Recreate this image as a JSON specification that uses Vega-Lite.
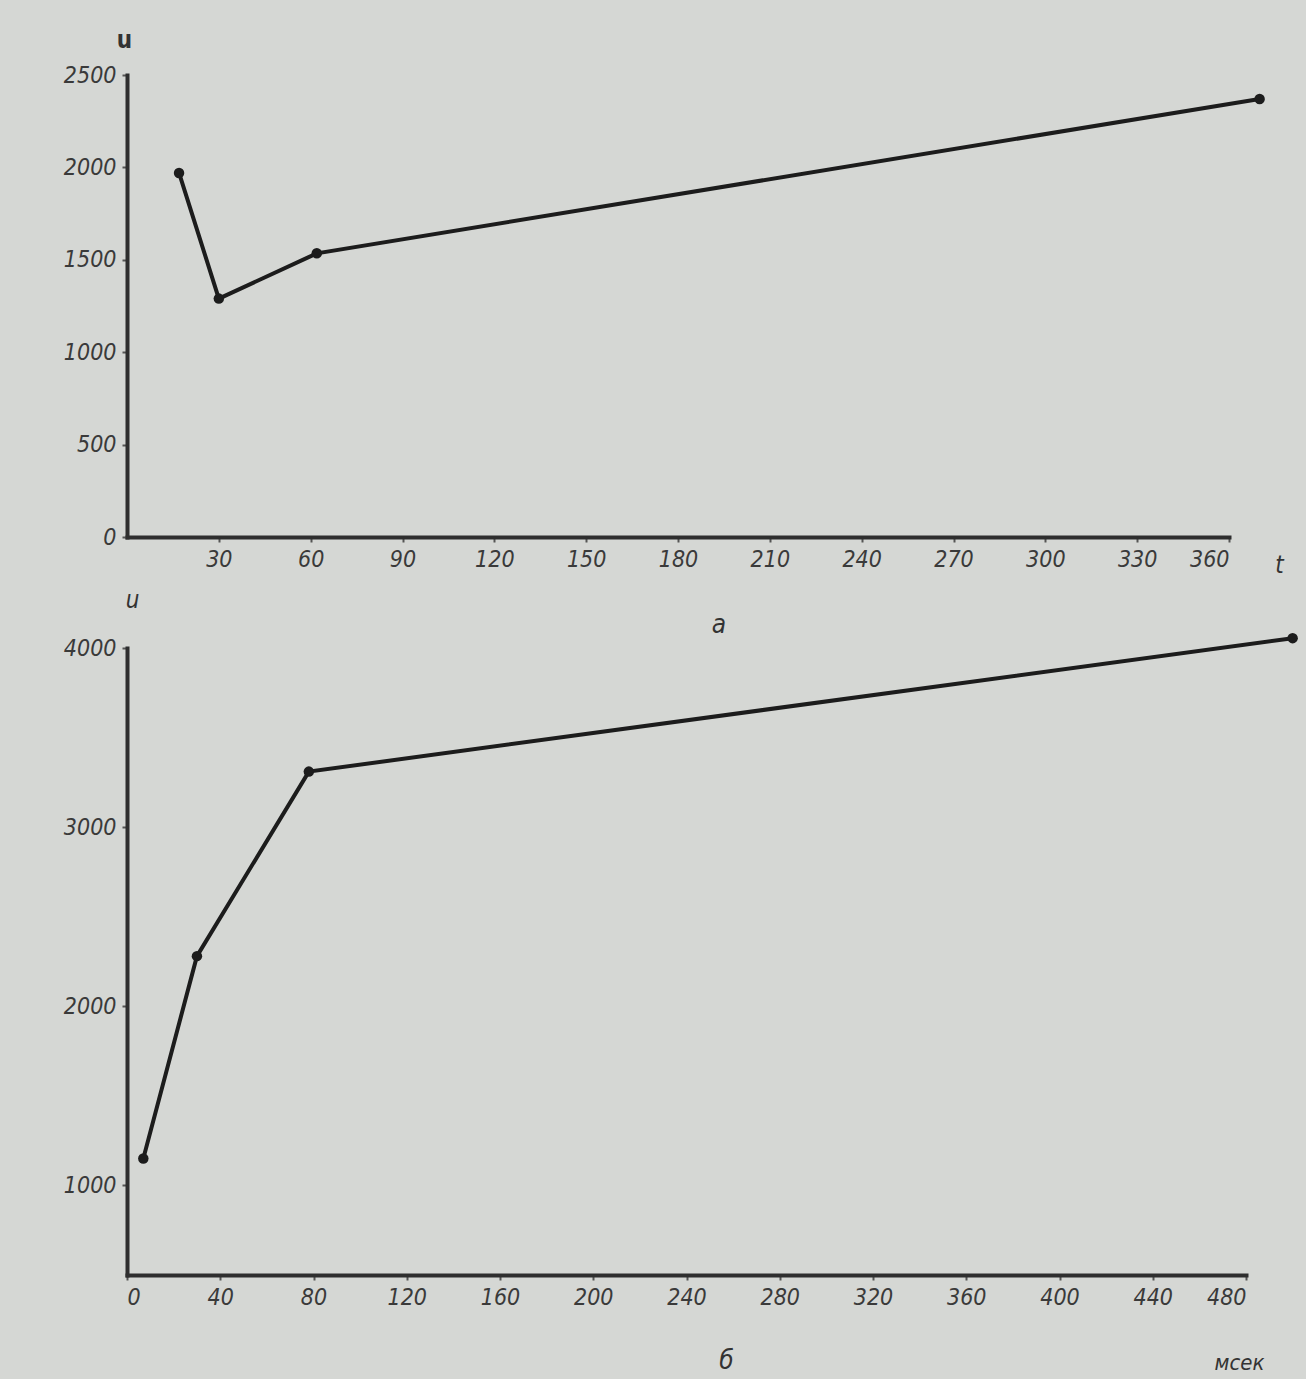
{
  "$schema": "https://vega.github.io/schema/vega-lite/v6.json",
  "background": "#d5d7d4",
  "padding": {"left": 63, "top": 28, "right": 5, "bottom": 5},
  "bounds": "flush",
  "spacing": 111,
  "config": {
    "view": {"stroke": null},
    "font": "DejaVu Sans Condensed, Liberation Sans Narrow, DejaVu Sans",
    "axis": {
      "domainColor": "#2e2e2e", "domainWidth": 4, "domainCap": "square",
      "tickColor": "#555555", "tickSize": 5, "tickWidth": 2,
      "grid": false, "format": "d",
      "labelFontStyle": "italic", "labelFontSize": 23, "labelColor": "#3a3a3a", "labelPadding": 6,
      "titleFontStyle": "italic", "titleFontWeight": "normal", "titleFontSize": 24, "titleColor": "#333333"
    },
    "title": {"fontStyle": "italic", "fontWeight": "normal", "fontSize": 26, "color": "#333333"}
  },
  "vconcat": [
    {
      "width": 1102,
      "height": 462,
      "title": {"text": "а", "orient": "bottom", "offset": 35, "dx": 41},
      "data": {"values": [
        {"t": 17, "u": 1970},
        {"t": 30, "u": 1290},
        {"t": 62, "u": 1535},
        {"t": 370, "u": 2370}
      ]},
      "encoding": {
        "x": {"field": "t", "type": "quantitative",
          "scale": {"domain": [0, 360], "nice": false, "zero": false},
          "axis": {"values": [30, 60, 90, 120, 150, 180, 210, 240, 270, 300, 330, 360], "title": "t",
            "titleX": 1152, "titleY": 28, "titleAlign": "center", "titleBaseline": "middle", "titleAngle": 0}},
        "y": {"field": "u", "type": "quantitative",
          "scale": {"domain": [0, 2500], "nice": false, "zero": false},
          "axis": {"values": [0, 500, 1000, 1500, 2000, 2500], "title": "u", "titleAngle": 0,
            "titleX": -3, "titleY": -35, "titleAlign": "center", "titleBaseline": "middle", "titleFontWeight": "bold", "titleFontStyle": "normal"}}
      },
      "layer": [
        {"mark": {"type": "line", "color": "#1c1c1c", "strokeWidth": 4, "clip": false}},
        {"mark": {"type": "point", "filled": true, "size": 110, "color": "#1c1c1c", "opacity": 1, "clip": false}}
      ]
    },
    {
      "width": 1119,
      "height": 627,
      "title": {"text": "б", "orient": "bottom", "offset": -25, "dx": 40},
      "data": {"values": [
        {"t": 7, "u": 1150},
        {"t": 30, "u": 2280},
        {"t": 78, "u": 3310},
        {"t": 500, "u": 4055}
      ]},
      "encoding": {
        "x": {"field": "t", "type": "quantitative",
          "scale": {"domain": [0, 480], "nice": false, "zero": false},
          "axis": {"values": [0, 40, 80, 120, 160, 200, 240, 280, 320, 360, 400, 440, 480], "title": "мсек",
            "titleX": 1112, "titleY": 87, "titleAlign": "center", "titleBaseline": "middle", "titleAngle": 0, "titleFontSize": 22}},
        "y": {"field": "u", "type": "quantitative",
          "scale": {"domain": [500, 4000], "nice": false, "zero": false},
          "axis": {"values": [1000, 2000, 3000, 4000], "title": "u", "titleAngle": 0,
            "titleX": 5, "titleY": -48, "titleAlign": "center", "titleBaseline": "middle"}}
      },
      "layer": [
        {"mark": {"type": "line", "color": "#1c1c1c", "strokeWidth": 4, "clip": false}},
        {"mark": {"type": "point", "filled": true, "size": 110, "color": "#1c1c1c", "opacity": 1, "clip": false}}
      ]
    }
  ]
}
